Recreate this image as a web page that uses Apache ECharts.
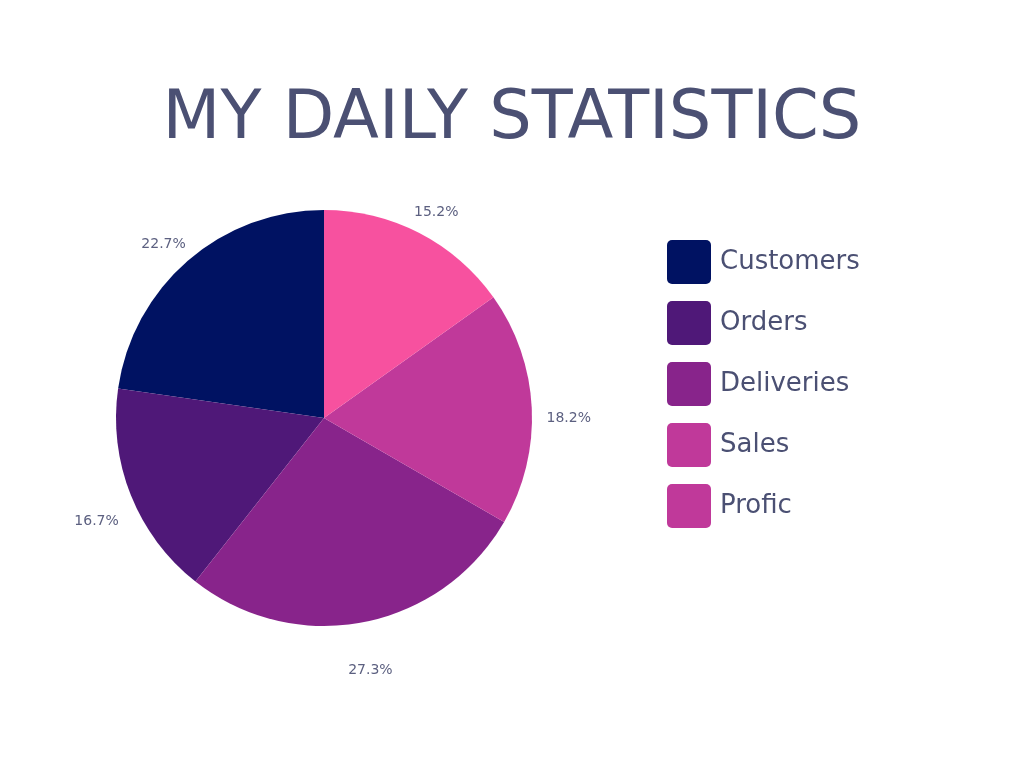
<!DOCTYPE html>
<html>
<head>
<meta charset="utf-8">
<script src="https://cdn.jsdelivr.net/npm/echarts@6/dist/echarts.min.js"></script>
<style>html,body{margin:0;padding:0;background:#fff;}#c{width:1024px;height:768px;}</style>
</head>
<body>
<div id="c"></div>
<script>
const categories = ['Customers', 'Orders', 'Deliveries', 'Sales', 'Profic'];
const values = [15, 11, 18, 12, 10];
const sliceColors = ['#001262', '#4F1878', '#88248B', '#C0399A', '#F7519F'];
const legendColors = ['#001262', '#4F1878', '#88248B', '#C0399A', '#C0399A'];

const FONT = 'DejaVu Sans';
const TEXT = '#4B5073';
const total = values.reduce((a, b) => a + b, 0);
const pieData = categories.map((c, i) => ({ name: c, value: values[i], itemStyle: { color: sliceColors[i] } }));
const labelData = categories.map((c, i) => ({ name: c, value: values[i] }));

const chart = echarts.init(document.getElementById('c'), null, { renderer: 'canvas' });
chart.setOption({
  backgroundColor: '#ffffff',
  animation: false,
  title: {
    text: 'MY DAILY STATISTICS',
    left: 'center',
    top: 87,
    padding: 0,
    textStyle: { fontFamily: FONT, fontSize: 67, fontWeight: 'normal', color: TEXT }
  },
  legend: {
    orient: 'vertical',
    left: 667,
    top: 240,
    padding: 0,
    itemWidth: 44,
    itemHeight: 44,
    itemGap: 17,
    icon: 'path://M5,0 H39 A5,5 0 0 1 44,5 V39 A5,5 0 0 1 39,44 H5 A5,5 0 0 1 0,39 V5 A5,5 0 0 1 5,0 Z',
    selectedMode: false,
    textStyle: { fontFamily: FONT, fontSize: 26, color: TEXT, padding: [2, 0, 0, 4] },
    data: categories.map((c, i) => ({ name: c, itemStyle: { color: legendColors[i] } }))
  },
  series: [
    {
      type: 'pie',
      center: [324, 418],
      radius: [0, 208],
      startAngle: 90,
      clockwise: false,
      silent: true,
      label: { show: false },
      labelLine: { show: false },
      data: pieData
    },
    {
      type: 'pie',
      center: [324, 418],
      radius: [208, 276],
      startAngle: 90,
      clockwise: false,
      silent: true,
      legendHoverLink: false,
      itemStyle: { color: 'rgba(0,0,0,0)' },
      label: {
        show: true,
        position: 'inside',
        fontFamily: FONT,
        fontSize: 14,
        color: '#5C6080',
        offset: [0, 12],
        formatter: p => (p.value / total * 100).toFixed(1) + '%'
      },
      labelLine: { show: false },
      data: labelData
    }
  ]
});
</script>
</body>
</html>
